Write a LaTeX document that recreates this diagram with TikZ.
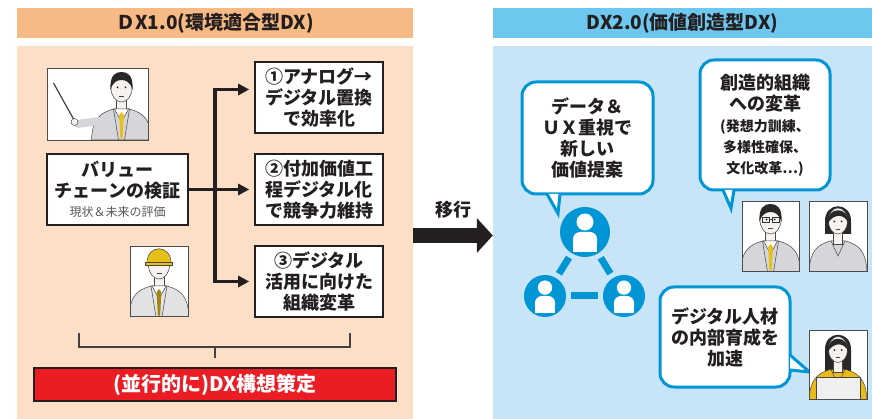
\documentclass[tikz,border=0pt]{standalone}
\usepackage{fontspec}
\setmainfont{Noto Sans CJK JP}
\usetikzlibrary{arrows.meta,positioning,calc}
\definecolor{lh}{RGB}{248,186,132}
\definecolor{lp}{RGB}{253,223,200}
\definecolor{rh}{RGB}{110,199,238}
\definecolor{rp}{RGB}{199,229,246}
\definecolor{bb}{RGB}{0,150,214}
\definecolor{rd}{RGB}{236,28,36}
\definecolor{ink}{RGB}{35,31,32}
\definecolor{skin}{RGB}{246,242,240}
\definecolor{hair}{RGB}{40,40,40}
\definecolor{suit}{RGB}{214,214,218}
\definecolor{tie}{RGB}{232,192,26}
\newcommand{\boxfont}{\bfseries\fontsize{18}{21}\selectfont}
\newcommand{\bubtail}[3]{\fill[white] #1 -- #2 -- #3 -- cycle; \draw[tailedge] #1 -- #2 -- #3;}
\tikzset{head/.style={inner sep=0pt,font=\bfseries\fontsize{19}{22}\selectfont,text=ink},
 panel/.style={inner sep=0pt},
 box/.style={draw=ink,fill=white,line width=1.6pt,align=center,inner sep=0pt,minimum width=128pt,minimum height=71pt,font=\boxfont,text=ink},
 photo/.style={draw=gray!60!black,fill=white,line width=.8pt,inner sep=0pt},
 bubble/.style={draw=bb,line width=3pt,fill=white,rounded corners=14pt,align=center,inner sep=0pt,font=\boxfont,text=ink},
 tailedge/.style={draw=bb,line width=3pt},
 ucirc/.style={circle,fill=bb,inner sep=0pt},
 link/.style={bb,line width=7pt,shorten <=5pt,shorten >=5pt},
 wire/.style={line width=3.5pt,ink},
 arr/.style={wire,-{Triangle[length=11pt,width=11pt]}},
 brk/.style={line width=1.5pt,ink!85},
 move/.style={line width=15pt,ink,-{Triangle[length=16pt,width=34pt]}},
 fig/.style={draw=gray!55!black,line width=.5pt},
 pics/man/.style 2 args={code={
  \draw[fig,fill=#1] (-30,36) .. controls (-29,15) and (-22,9) .. (-8,5) -- (8,5) .. controls (22,9) and (29,15) .. (30,36) -- cycle;
  \draw[fig,fill=skin] (-5,-6) rectangle (5,8);
  \draw[fig,fill=white] (-7,5) -- (0,18) -- (7,5) -- cycle;
  \fill[#2] (0,8) -- (-2.3,11) -- (-1.3,33) -- (0,36) -- (1.3,33) -- (2.3,11) -- cycle;
  \draw[fig] (-8,5) -- (-3,36) (8,5) -- (3,36);
  \draw[fig,fill=skin] (0,-16) ellipse (10.5 and 14);
  \fill[hair] (-11,-14) .. controls (-12,-29) and (-6,-32) .. (0,-32) .. controls (6,-32) and (12,-29) .. (11,-14) .. controls (9,-22) and (4,-24) .. (0,-24) .. controls (-4,-24) and (-9,-22) .. (-11,-14) -- cycle;
  \fill[hair] (-4,-16.5) circle (1) (4,-16.5) circle (1);
  \draw[fig] (-2.5,-8) -- (2.5,-8);}},
 pics/woman/.style 2 args={code={
  \fill[hair] (-13,-14) .. controls (-14,-35) and (14,-35) .. (13,-14) -- (13,#2) -- (-13,#2) -- cycle;
  \draw[fig,fill=#1] (-29,36) .. controls (-28,15) and (-21,9) .. (-8,5) -- (8,5) .. controls (21,9) and (28,15) .. (29,36) -- cycle;
  \draw[fig,fill=skin] (-4.5,-6) rectangle (4.5,8);
  \draw[fig] (-7,5) -- (0,20) -- (7,5);
  \draw[fig,fill=skin] (0,-15) ellipse (9.5 and 13);
  \fill[hair] (-10,-13) .. controls (-11,-30) and (11,-30) .. (10,-13) .. controls (7,-22) and (-4,-23) .. (-10,-13) -- cycle;
  \fill[hair] (-3.7,-14.5) circle (1) (3.7,-14.5) circle (1);
  \draw[fig] (-2,-7) -- (2,-7);}},
 pics/helmet/.style={code={
  \draw[fig,fill=tie] (-12,-18) .. controls (-12,-37) and (12,-37) .. (12,-18) -- cycle;
  \draw[fig,fill=tie] (-13.5,-19) rectangle (13.5,-16);}},
 pics/glasses/.style={code={
  \draw[black!80,line width=.8pt] (-8.5,-19) rectangle (-1.5,-14) (1.5,-19) rectangle (8.5,-14) (-1.5,-17) -- (1.5,-17);}},
 pics/pointer/.style={code={
  \draw[black!75,line width=1.2pt] (-44,-21) -- (-24,15);
  \draw[suit,line width=8pt,line cap=round] (-20,20) -- (2,17);
  \draw[fig,fill=skin] (-23,18) circle (3.5);}},
 pics/laptop/.style={code={
  \draw[fig,fill=gray!12] (-22,13) rectangle (22,36);}},
 pics/user/.style={code={
  \fill[white] (0,-10) circle (8.5);
  \fill[white,rounded corners=7pt] (-12,0) rectangle (12,20);
  \fill[white] (-12,10) rectangle (12,20);}}}

\begin{document}
\begin{tikzpicture}[x=1pt,y=-1pt]
\useasboundingbox (0,0) rectangle (872,419);
% two panels with their title bands
\node[panel,fill=lp,minimum width=396pt,minimum height=373pt] (lpanel) at (215,232.5) {};
\node[panel,fill=rp,minimum width=379pt,minimum height=373pt] (rpanel) at (682.5,232.5) {};
\node[head,fill=lh,minimum width=396pt,minimum height=30pt] (lhead) at (215,23) {ＤX1.0(環境適合型DX)};
\node[head,fill=rh,minimum width=379pt,minimum height=30pt] (rhead) at (682.5,23) {DX2.0(価値創造型DX)};

% DX1.0 side
\node[photo,minimum width=101pt,minimum height=72pt,
 path picture={\pic at ([xshift=24pt]path picture bounding box.center) {man={suit}{tie}};
  \pic at (path picture bounding box.center) {pointer};}] (teacher) at (97.5,104) {};
\node[box,minimum width=141pt] (chain) at (117.5,189.5) {バリュー\\チェーンの検証\\[-2pt]{\mdseries\fontsize{12}{15}\selectfont\color{ink!75}現状＆未来の評価}};
\node[photo,minimum width=58pt,minimum height=70pt,
 path picture={\pic at (path picture bounding box.center) {man={suit!70}{tie!70!black}};
  \pic at (path picture bounding box.center) {helmet};}] (worker) at (159,281) {};
\node[box] (dx1) at (319,97.5) {①アナログ→\\デジタル置換\\で効率化};
\node[box] (dx2) at (319,189.5) {②付加価値工\\程デジタル化\\で競争力維持};
\node[box] (dx3) at (319,281.5) {③デジタル\\活用に向けた\\組織変革};
\coordinate (fork) at (215,190);
\coordinate (a1) at ([yshift=8pt]dx1.west);
\draw[arr,shorten >=5pt] (chain.east) -- (dx2.west);
\draw[wire,{Triangle[length=11pt,width=11pt]}-{Triangle[length=11pt,width=11pt]},shorten <=5pt,shorten >=5pt] (a1) -| (fork |- dx3.west) -- (dx3.west);
\node[draw=ink,line width=2pt,fill=rd,text=white,inner sep=0pt,minimum width=362pt,minimum height=33pt,font=\bfseries\fontsize{20}{24}\selectfont] (plan) at (215,384.5) {(並行的に)DX構想策定};
\draw[brk] (79,333) |- (350,347) -- (350,333);
\coordinate (brk) at (215,347);
\draw[brk] (brk) -- ([yshift=9pt]plan.north);

% shift to DX2.0
\draw[move] ([yshift=-3pt]lpanel.east) -- ([yshift=-3pt]rpanel.west) node[midway,above=10pt,font=\boxfont,text=ink,inner sep=0pt] (shift) {移行};

% DX2.0 side
\node[bubble,minimum width=131pt,minimum height=112pt] (b1) at (587.5,138) {データ＆\\ＵＸ重視で\\新しい\\価値提案};
\bubtail{([xshift=-40.5pt,yshift=1.5pt]b1.south)}{([xshift=-29.5pt,yshift=-18pt]b1.south)}{([xshift=-27.5pt,yshift=1.5pt]b1.south)}
\node[bubble,minimum width=130pt,minimum height=130pt] (b2) at (765,125) {創造的組織\\への変革\\{\fontsize{14}{19}\selectfont (発想力訓練、}\\{\fontsize{14}{19}\selectfont 多様性確保、}\\{\fontsize{14}{19}\selectfont 文化改革…)}};
\bubtail{([xshift=-42pt,yshift=1.5pt]b2.south)}{([xshift=-34pt,yshift=-17pt]b2.south)}{([xshift=-31pt,yshift=1.5pt]b2.south)}
\node[bubble,minimum width=130pt,minimum height=100pt] (b3) at (725,337) {デジタル人材\\の内部育成を\\加速};
\bubtail{([xshift=-1.5pt,yshift=-18pt]b3.east)}{([xshift=18pt,yshift=-35pt]b3.east)}{([xshift=-1.5pt,yshift=-33pt]b3.east)}

\node[ucirc,minimum size=50pt] (u1) at (585,232) {};
\node[ucirc,minimum size=42pt] (u2) at (545,296) {};
\node[ucirc,minimum size=42pt] (u3) at (624,296) {};
\draw[link] (u1) -- (u2);
\draw[link] (u1) -- (u3);
\draw[link] (u2) -- (u3);
\pic at (u1) {user};
\pic[scale=.84] at (u2) {user};
\pic[scale=.84] at (u3) {user};

\node[photo,minimum width=57pt,minimum height=70pt,
 path picture={\pic at (path picture bounding box.center) {man={suit}{tie}};
  \pic at (path picture bounding box.center) {glasses};}] (p1) at (770.5,236) {};
\node[photo,minimum width=58pt,minimum height=70pt,
 path picture={\pic at (path picture bounding box.center) {woman={suit}{-2}};}] (p2) at (838,236) {};
\node[photo,minimum width=58pt,minimum height=69pt,
 path picture={\pic at (path picture bounding box.center) {woman={tie!90!orange}{12}};
  \pic at (path picture bounding box.center) {laptop};}] (p3) at (838,364.5) {};
\end{tikzpicture}
\end{document}
